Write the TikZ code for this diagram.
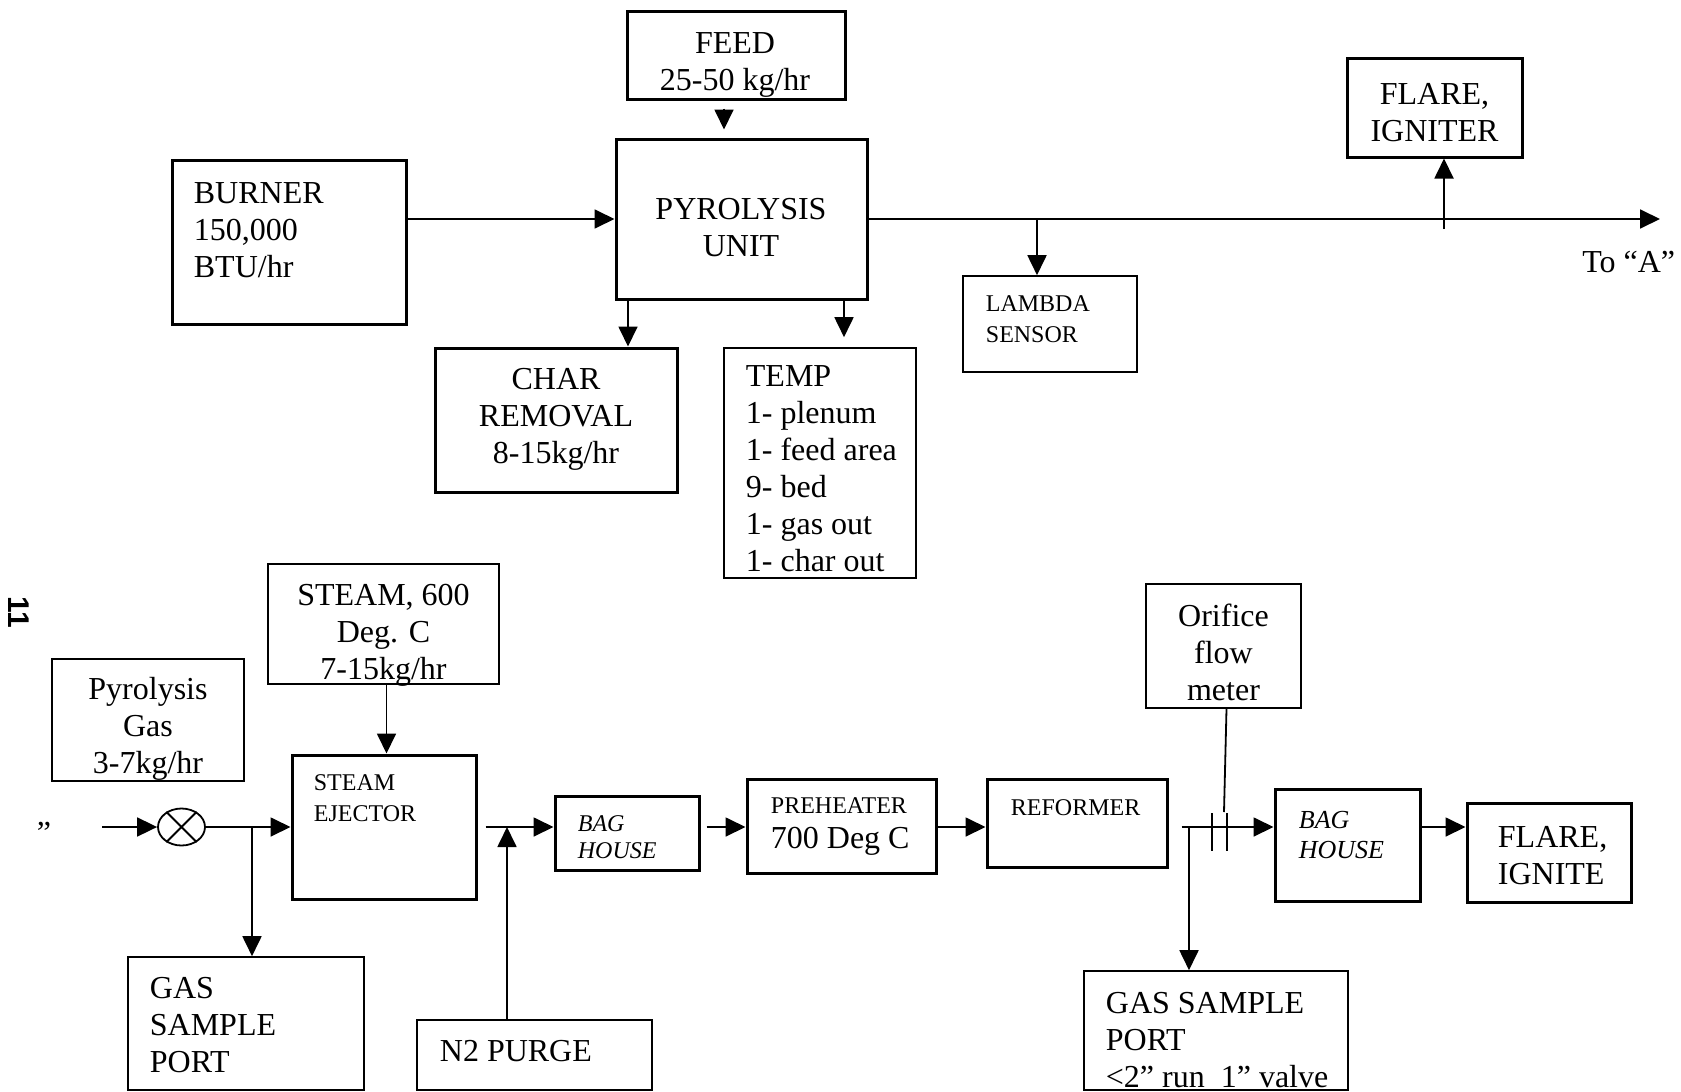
\documentclass[tikz,border=0pt]{standalone}
\usepackage{fontspec}
\setmainfont{Liberation Serif}
\newfontfamily\pagefont{Liberation Sans}
\usetikzlibrary{arrows.meta}
\usetikzlibrary{shapes.geometric}

\begin{document}
\begin{tikzpicture}[
    x=0.5pt, y=-0.5pt, line width=0.9pt,
    >={Triangle[length=10pt,width=9.5pt]},
    thickbox/.style={rectangle, draw=black, line width=1.5pt, inner sep=0pt},
    thinbox/.style={rectangle, draw=black, line width=0.8pt, inner sep=0pt},
    bigtext/.style={inner sep=0pt, font=\fontsize{16}{18.5}\selectfont},
    smalltext/.style={inner sep=0pt, font=\fontsize{12}{15.5}\selectfont},
  ]
  \useasboundingbox (0,0) rectangle (1681,1092);

  % top line: pyrolysis unit
  \node[thickbox, minimum width=109pt, minimum height=44pt]     (feed)          at (736,55)      {};
  \node[thickbox, minimum width=125.5pt, minimum height=80pt]   (pyrolysis)     at (741.5,219)   {};
  \node[thickbox, minimum width=117pt, minimum height=82pt]     (burner)        at (289,242)     {};
  \node[thickbox, minimum width=121pt, minimum height=72pt]     (charremoval)   at (556,420)     {};
  \node[thinbox,  minimum width=96pt, minimum height=115pt]     (temp)          at (820,463)     {};
  \node[thinbox,  minimum width=87pt, minimum height=48pt]      (lambdasensor)  at (1050,324)    {};
  \node[thickbox, minimum width=87.5pt, minimum height=49.5pt]  (flareigniter)  at (1434.5,107.5) {};
  \coordinate (toA) at (1660,219);

  \node[bigtext, align=center, anchor=north]      (feedtext)      at (735,32)    {FEED\\25-50 kg/hr};
  \node[bigtext, align=center, anchor=north]      (pyrolysistext) at (741,197)   {PYROLYSIS\\UNIT};
  \node[bigtext, align=left, anchor=north west]   (burnertext)    at (193,182)   {BURNER\\150,000\\BTU/hr};
  \node[bigtext, align=center, anchor=north]      (chartext)      at (556,367)   {CHAR\\REMOVAL\\8-15kg/hr};
  \node[bigtext, align=left, anchor=north west]   (temptext)      at (745,365)   {TEMP\\1- plenum\\1- feed area\\9- bed\\1- gas out\\1- char out};
  \node[smalltext, align=left, anchor=north west] (lambdatext)    at (985,295)   {LAMBDA\\SENSOR};
  \node[bigtext, align=center, anchor=north]      (flaretext)     at (1434.5,82) {FLARE,\\IGNITER};
  \node[bigtext, anchor=north east]               (toAtext)       at (1676,250)  {To “A”};

  \draw[->] ([xshift=-6pt,yshift=-4pt]feed.south) -- ([xshift=-8.75pt,yshift=4pt]pyrolysis.north);
  \draw[->] (burner.east |- pyrolysis.west) -- (pyrolysis.west);
  \draw[->] (pyrolysis.east) -- (toA);
  \draw[->] ([xshift=-6.5pt]lambdasensor.north |- pyrolysis.east) -- ([xshift=-6.5pt]lambdasensor.north);
  \draw[->] ([xshift=4.75pt,yshift=-5pt]flareigniter.south |- pyrolysis.east) -- ([xshift=4.75pt]flareigniter.south);
  \draw[->] ([xshift=36pt]charremoval.north |- pyrolysis.south) -- ([xshift=36pt]charremoval.north);
  \draw[->] ([xshift=12pt]temp.north |- pyrolysis.south) -- ([xshift=12pt,yshift=5pt]temp.north);

  % bottom line: steam reforming
  \node[font=\pagefont\bfseries\fontsize{15}{15}\selectfont, rotate=-90, inner sep=0pt] (pagenum) at (19,612) {11};
  \node[bigtext] (quote) at (44,833) {”};
  \coordinate (gasin) at (102,827);
  \node[ellipse, draw=black, minimum width=23.5pt, minimum height=18.5pt, inner sep=0pt] (valve) at (181.5,827) {};
  \node[thinbox,  minimum width=96pt, minimum height=61pt]      (pyrogas)       at (148,720)     {};
  \node[thinbox,  minimum width=115.5pt, minimum height=60pt]   (steam)         at (383.5,624)   {};
  \node[thickbox, minimum width=92pt, minimum height=72pt]      (ejector)       at (384,827)     {};
  \node[thinbox,  minimum width=118pt, minimum height=66.5pt]   (sampleport)    at (246,1023.5)  {};
  \node[thinbox,  minimum width=117.5pt, minimum height=35pt]   (nitrogen)      at (534.5,1055)  {};
  \node[thickbox, minimum width=72pt, minimum height=37pt]      (baghouse1)     at (627,833)     {};
  \node[thickbox, minimum width=94.5pt, minimum height=47pt]    (preheater)     at (841.5,826)   {};
  \node[thickbox, minimum width=90pt, minimum height=44pt]      (reformer)      at (1077,823)    {};
  \node[thinbox,  minimum width=77.5pt, minimum height=62pt]    (orifice)       at (1223.5,646)  {};
  \node[thickbox, minimum width=72.5pt, minimum height=56pt]    (baghouse2)     at (1347.5,845)  {};
  \node[thickbox, minimum width=82pt, minimum height=49.5pt]    (flareignite)   at (1549,852.5)  {};
  \node[thinbox,  minimum width=132pt, minimum height=59.5pt]   (sampleport2)   at (1216,1030.5) {};

  \node[bigtext, align=center, anchor=north]      (pyrogastext)   at (148,676)   {Pyrolysis\\Gas\\3-7kg/hr};
  \node[bigtext, align=center, anchor=north]      (steamtext)     at (383.5,583) {STEAM, 600\\Deg. C\\7-15kg/hr};
  \node[smalltext, align=left, anchor=north west] (ejectortext)   at (313,774)   {STEAM\\EJECTOR};
  \node[bigtext, align=left, anchor=north west]   (porttext)      at (149,976)   {GAS\\SAMPLE\\PORT};
  \node[bigtext, anchor=north west]               (nitrogentext)  at (439,1039)  {N2 PURGE};
  \node[smalltext, align=left, anchor=north west, font=\fontsize{12}{13.5}\selectfont\itshape] (bag1text) at (577,815) {BAG\\HOUSE};
  \node[smalltext, anchor=base west]              (preheatertext) at (770,813)   {PREHEATER};
  \node[bigtext, anchor=base west]                (degtext)       at (770,848)   {700 Deg C};
  \node[smalltext, anchor=north west]             (reformertext)  at (1010,799)  {REFORMER};
  \node[bigtext, align=center, anchor=north]      (orificetext)   at (1223.5,603) {Orifice\\flow\\meter};
  \node[smalltext, align=left, anchor=north west, font=\fontsize{13}{15}\selectfont\itshape] (bag2text) at (1298,810) {BAG\\HOUSE};
  \node[bigtext, align=left, anchor=north west]   (flare2text)    at (1497,825)  {FLARE,\\IGNITE};
  \node[bigtext, align=left, anchor=north west]   (port2text)     at (1105,991)  {GAS SAMPLE\\PORT\\<2” run\ \ 1” valve};

  \draw (valve.45) -- (valve.225) (valve.135) -- (valve.315);
  \draw[->] (gasin) -- (valve.west);
  \draw[->] (valve.east) -- (ejector.west);
  \draw[->] ([xshift=3pt]sampleport.north |- valve.east) -- ([xshift=3pt]sampleport.north);
  \draw[->] ([xshift=1.5pt]steam.south) -- ([xshift=1.5pt]steam.south |- ejector.north);
  \draw[->] ([xshift=4pt]ejector.east) -- (baghouse1.west |- ejector.east);
  \draw[->] ([xshift=-13.75pt]nitrogen.north) -- ([xshift=-13.75pt]nitrogen.north |- ejector.east);
  \draw[->] ([xshift=3pt]baghouse1.east |- ejector.east) -- (preheater.west |- ejector.east);
  \draw[->] (preheater.east |- ejector.east) -- (reformer.west |- ejector.east);

  % orifice plate on the reformer outlet
  \coordinate (refout) at ([xshift=6.5pt]reformer.east |- ejector.east);
  \coordinate (orificetap) at (1224,812);
  \draw[->] (refout) -- (baghouse2.west |- refout);
  \draw (1212,813) -- (1212,851) (1227,813) -- (1227,851);
  \draw ([xshift=1.5pt]orifice.south) -- (orificetap);
  \draw[->] ([xshift=-13.5pt]sampleport2.north |- refout) -- ([xshift=-13.5pt]sampleport2.north);
  \draw[->] (baghouse2.east |- refout) -- (flareignite.west |- refout);
\end{tikzpicture}
\end{document}
